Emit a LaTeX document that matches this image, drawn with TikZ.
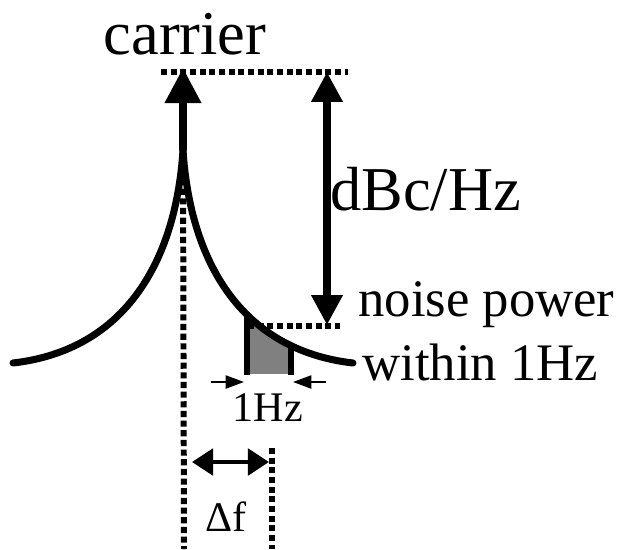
\documentclass[tikz,border=0pt]{standalone}
\usepackage{fontspec}
\setmainfont{Liberation Serif}
\usepackage{tkz-euclide}
\usetikzlibrary{arrows.meta}

\definecolor{noisegray}{RGB}{128,128,128}
\tikzset{
  spectrum/.style={line width=4pt, line cap=round},
  guide/.style={line width=3.4pt, dash pattern=on 3.5pt off 2pt},
  bigtip/.style={-{Triangle[length=20pt,width=20pt]}},
  dbtip/.style={{Triangle[length=17pt,width=17pt]}-{Triangle[length=17pt,width=17pt]}},
  smalltip/.style={line width=1.1pt, -{Triangle[length=10.5pt,width=7.5pt]}},
  bigtext/.style={anchor=base, inner sep=0pt, font=\fontsize{35.5}{40}\selectfont},
  midtext/.style={anchor=base west, inner sep=0pt, font=\fontsize{30}{36}\selectfont},
  smalltext/.style={anchor=base, inner sep=0pt, font=\fontsize{24}{28}\selectfont},
}

\begin{document}
\begin{tikzpicture}[x=0.02cm, y=-0.02cm]
    \useasboundingbox (0,0) rectangle (623,549);
    \tkzDefPoint(183,150){P}
    \tkzDefPoint(183,68){T}
    \tkzDefPoint(13,363){L}
    \tkzDefPoint(353,363){R}
    \tkzDefPoint(161,72){A}
    \tkzDefPoint(348,72){B}
    \tkzDefPoint(327,72){D}
    \tkzDefPoint(327,325){E}
    \tkzDefPoint(248,326){N}
    \tkzDefPoint(340,326){M}
    \tkzDefPoint(184,549){F}
    \tkzDefPoint(272,448){G}
    \tkzDefPoint(272,549){H}
    % shaded 1Hz slice
    \begin{scope}
        \clip (247,290) rectangle (291,373);
        \fill[noisegray] (P) .. controls (190,260) and (240,350) .. (R)
            -- (353,400) -- (183,400) -- cycle;
    \end{scope}
    \draw[line width=3pt] (247,312) -- (247,375);
    \draw[line width=3pt] (291,345) -- (291,375);
    % dotted guides
    \draw[guide] (A) -- (B);
    \draw[guide] (N) -- (M);
    \draw[guide] (P) -- (F);
    \draw[guide] (G) -- (H);
    % spectrum
    \draw[spectrum] (P) .. controls (190,260) and (240,350) .. (R);
    \draw[spectrum] (P) .. controls (176,260) and (126,350) .. (L);
    \draw[spectrum, line cap=butt, bigtip] (P) -- (T);
    \draw[spectrum, line cap=butt, dbtip] (D) -- (E);
    % widths
    \draw[smalltip] (211,382) -- (244,382);
    \draw[smalltip] (326,382) -- (293,382);
    \draw[line width=2.5pt, {Triangle[length=12pt,width=15pt]}-{Triangle[length=12pt,width=15pt]}] (192,462) -- (269,462);
    % labels
    \node[bigtext] (carrier) at (185,54) {carrier};
    \node[bigtext, anchor=base west] (dbc) at (330,210) {dBc/Hz};
    \node[midtext] (noise) at (358,316) {noise power};
    \node[midtext] (within) at (362,380) {within 1Hz};
    \node[smalltext] (hz) at (268,421) {1Hz};
    \node[smalltext] (df) at (226,531) {Δf};
\end{tikzpicture}
\end{document}
